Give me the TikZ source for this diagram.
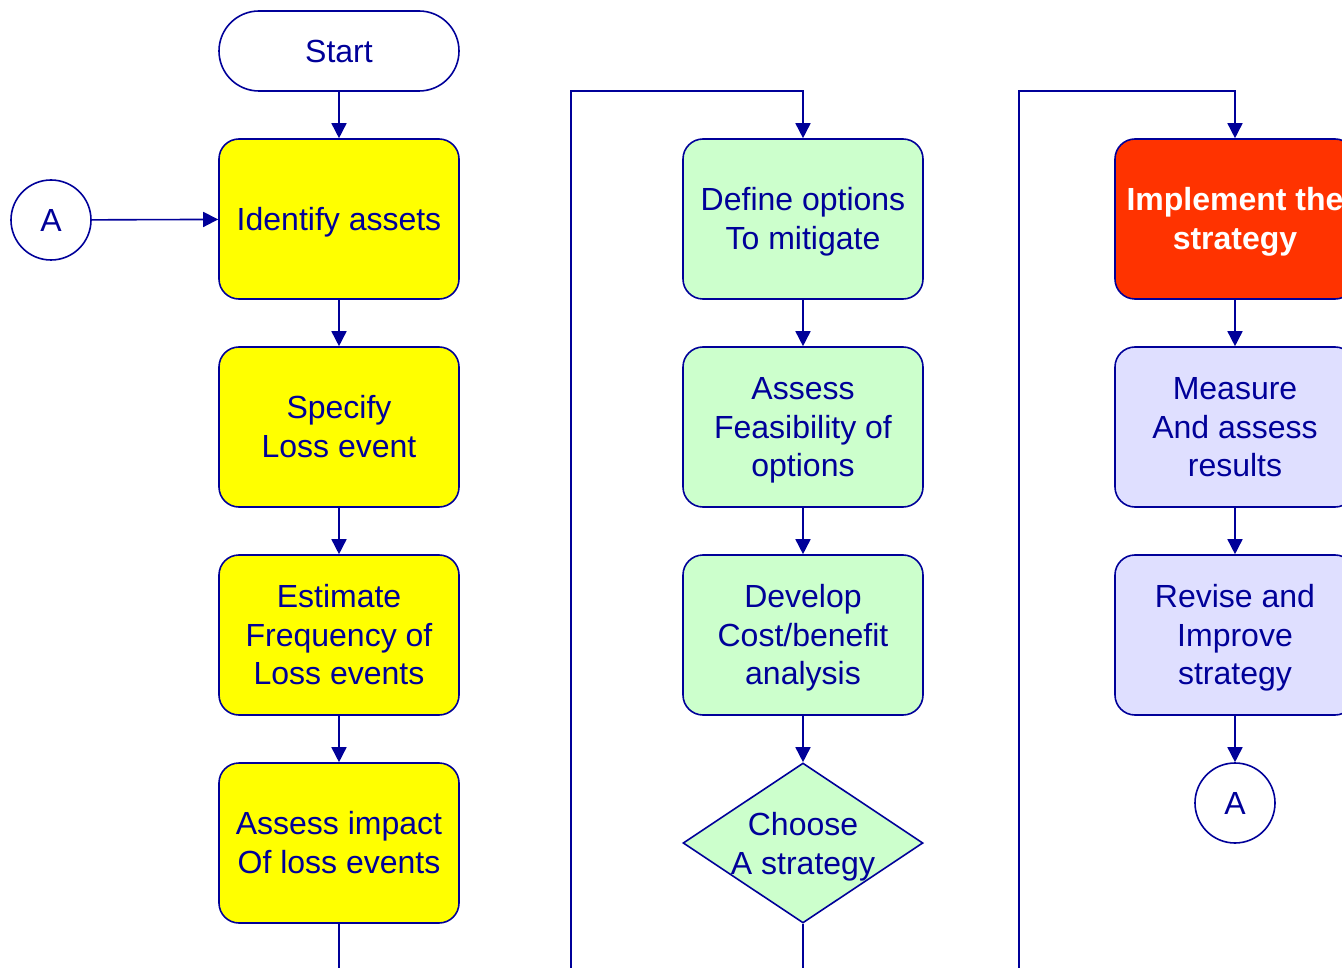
\documentclass[tikz,border=0pt]{standalone}
\usepackage{fontspec}
\setmainfont{Liberation Sans}
\usepackage{tikz}
\usetikzlibrary{arrows, arrows.meta}
\usetikzlibrary{shapes.geometric}
\usepackage{xcolor}
\definecolor{ink}{HTML}{000099}
\definecolor{boxyellow}{HTML}{FFFF00}
\definecolor{boxgreen}{HTML}{CCFFCC}
\definecolor{boxlilac}{HTML}{DFDFFF}
\definecolor{boxred}{HTML}{FF3300}
\newcommand\boxstrut{\rule[-6.8pt]{0pt}{35.8pt}}

\begin{document}
\begin{tikzpicture}[x=1pt,y=-1pt,
	every node/.style={font=\fontsize{32}{38.4}\selectfont,text=ink,align=center,inner sep=0pt,
		execute at end node=\boxstrut},
	box/.style={draw=ink,line width=1.6pt,rounded corners=20pt,minimum width=240pt,minimum height=160pt},
	term/.style={draw=ink,line width=1.6pt,rounded corners=40pt,minimum width=240pt,minimum height=80pt},
	decide/.style={diamond,draw=ink,line width=1.6pt,fill=boxgreen,minimum width=240pt,minimum height=160pt},
	conn/.style={circle,draw=ink,line width=1.6pt,minimum size=80pt},
	line/.style={draw=ink,line width=1.6pt},
	flow/.style={line,-{Triangle[length=15pt,width=15pt]}}
]
\useasboundingbox (0,0) rectangle (1342,968);

% first column
\node[term] (start) at (339,51) {Start};
\node[box,fill=boxyellow] (ident) at (339,219) {Identify assets};
\node[box,fill=boxyellow] (spec) at (339,427) {\boxstrut Specify\\Loss event};
\node[box,fill=boxyellow] (freq) at (339,635) {\boxstrut Estimate\\Frequency of\\Loss events};
\node[box,fill=boxyellow] (impact) at (339,843) {\boxstrut Assess impact\\Of loss events};
\node[conn] (circA) at (51,220) {A};

% second column
\node[box,fill=boxgreen] (define) at (803,219) {\boxstrut Define options\\To mitigate};
\node[box,fill=boxgreen] (feas) at (803,427) {\boxstrut Assess\\Feasibility of\\options};
\node[box,fill=boxgreen] (cost) at (803,635) {\boxstrut Develop\\Cost/benefit\\analysis};
\node[decide] (choose) at (803,843) {};
\node (choosetxt) at (803,844) {\boxstrut Choose\\A strategy};

% third column
\node[box,fill=boxred,text=white,font=\fontsize{32}{38.4}\selectfont\bfseries] (impl) at (1235,219) {\boxstrut Implement the\\strategy};
\node[box,fill=boxlilac] (measure) at (1235,427) {\boxstrut Measure\\And assess\\results};
\node[box,fill=boxlilac] (revise) at (1235,635) {\boxstrut Revise and\\Improve\\strategy};
\node[conn] (circB) at (1235,803) {A};

% loose ends
\coordinate (outA) at (339,968);
\coordinate (loopA) at (571,968);
\coordinate (loopAtop) at (571,91);
\coordinate (outB) at (803,968);
\coordinate (loopB) at (1019,968);
\coordinate (loopBtop) at (1019,91);

\draw[flow] (start) -- (ident);
\draw[flow] (circA) -- (ident);
\draw[flow] (ident) -- (spec);
\draw[flow] (spec) -- (freq);
\draw[flow] (freq) -- (impact);
\draw[line] (impact) -- (outA);

\draw[flow] (loopA) -- (loopAtop) -| (define.north);
\draw[flow] (define) -- (feas);
\draw[flow] (feas) -- (cost);
\draw[flow] (cost) -- (choose);
\draw[line] (choose) -- (outB);

\draw[flow] (loopB) -- (loopBtop) -| (impl.north);
\draw[flow] (impl) -- (measure);
\draw[flow] (measure) -- (revise);
\draw[flow] (revise) -- (circB);
\end{tikzpicture}
\end{document}
